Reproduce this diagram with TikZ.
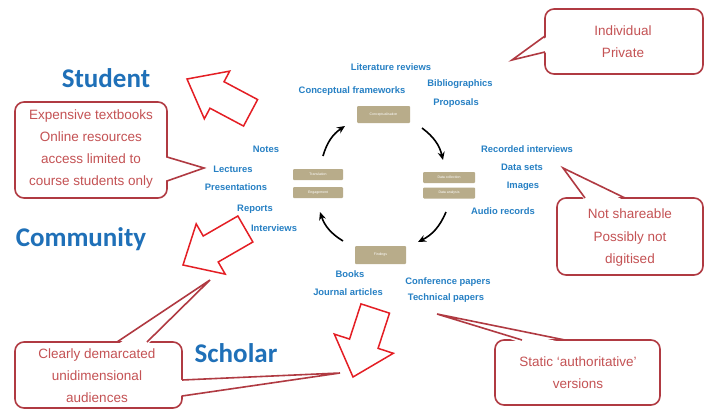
\documentclass[tikz,border=0pt]{standalone}
\usepackage{fontspec}
\setmainfont{Liberation Sans}
\newfontfamily\titlefont{Carlito}
\usetikzlibrary{arrows.meta,calc}
\definecolor{titleblue}{RGB}{31,112,184}
\definecolor{lblblue}{RGB}{38,128,196}
\definecolor{tanbox}{RGB}{184,172,138}
\definecolor{callred}{RGB}{176,58,66}
\definecolor{calltext}{RGB}{196,82,84}
\definecolor{arrred}{RGB}{228,30,36}
\begin{document}
\begin{tikzpicture}[x=1pt,y=-1pt,
 title/.style={font=\titlefont\bfseries\fontsize{27}{27}\selectfont, text=titleblue, inner sep=0pt},
 lbl/.style={font=\bfseries\fontsize{9.4}{9.4}\selectfont, text=lblblue, inner sep=0pt},
 stage/.style={fill=tanbox, text=white, font=\fontsize{3.5}{4}\selectfont, inner sep=0pt, rounded corners=1pt},
 cyc/.style={line width=1.6pt, -{Stealth[length=8pt,width=7pt]}, bend left=20},
 calloutbox/.style={draw=callred, line width=1.6pt, fill=white, rounded corners=9pt},
 callline/.style={draw=callred, line width=1.6pt, line join=miter},
 calltxt/.style={text=calltext, align=center, inner sep=0pt},
 blockarrow/.style={draw=arrred, line width=1.5pt, fill=white, line join=miter}
]
\useasboundingbox (0,0) rectangle (704,410);
\fill[white] (0,0) rectangle (704,410);

% titles
\node[title] (student) at (106,78) {Student};
\node[title] (community) at (81,239) {Community};
\node[title] (scholar) at (236,353) {Scholar};

% stage boxes
\node[stage, minimum width=53pt, minimum height=17pt] (concept) at (383.5,114.5) {Conceptualisation};
\node[stage, minimum width=50pt, minimum height=11pt] (transl) at (318,174.5) {Translation};
\node[stage, minimum width=50pt, minimum height=11pt] (engage) at (318,192.5) {Engagement};
\node[stage, minimum width=52pt, minimum height=11pt] (datacol) at (449,177.5) {Data collection};
\node[stage, minimum width=52pt, minimum height=11pt] (dataan) at (449,193) {Data analysis};
\node[stage, minimum width=51pt, minimum height=18pt] (findings) at (380.5,255) {Findings};

% cycle arrows
\coordinate (a1s) at (323,156); \coordinate (a1e) at (345,126);
\coordinate (a2s) at (422,128); \coordinate (a2e) at (443,160);
\coordinate (a3s) at (446,212); \coordinate (a3e) at (418,242);
\coordinate (a4s) at (343,241); \coordinate (a4e) at (320,212);
\draw[cyc] (a1s) to (a1e);
\draw[cyc] (a2s) to (a2e);
\draw[cyc] (a3s) to (a3e);
\draw[cyc] (a4s) to (a4e);

% blue labels
\node[lbl] (litrev) at (391,67) {Literature reviews};
\node[lbl] (concfw) at (352,91) {Conceptual frameworks};
\node[lbl] (biblio) at (460,84) {Bibliographics};
\node[lbl] (propos) at (456,103) {Proposals};
\node[lbl] (notes) at (266,149) {Notes};
\node[lbl] (lect) at (233,169) {Lectures};
\node[lbl] (pres) at (236,187) {Presentations};
\node[lbl] (reports) at (255,209) {Reports};
\node[lbl] (interv) at (274,228) {Interviews};
\node[lbl] (recint) at (527,149) {Recorded interviews};
\node[lbl] (datasets) at (522,167) {Data sets};
\node[lbl] (images) at (523,186) {Images};
\node[lbl] (audio) at (503,211) {Audio records};
\node[lbl] (books) at (350,274) {Books};
\node[lbl] (journal) at (348,292) {Journal articles};
\node[lbl] (confp) at (448,282) {Conference papers};
\node[lbl] (techp) at (446,298) {Technical papers};

% red block arrows
\begin{scope}[shift={(187,79)}, rotate=-28]
\draw[blockarrow] (0,0) -- (34,27) -- (34,15) -- (72,15) -- (72,-15) -- (34,-15) -- (34,-27) -- cycle;
\end{scope}
\begin{scope}[shift={(183,265)}, rotate=30]
\draw[blockarrow] (0,0) -- (32,29) -- (32,15) -- (72,15) -- (72,-15) -- (32,-15) -- (32,-29) -- cycle;
\end{scope}
\begin{scope}[shift={(353,377)}, rotate=72]
\draw[blockarrow] (0,0) -- (35,31) -- (35,15) -- (72,15) -- (72,-15) -- (35,-15) -- (35,-31) -- cycle;
\end{scope}

% callout: Individual / Private
\draw[calloutbox] (545,9) rectangle (703,74);
\coordinate (p1) at (512,60);
\fill[white] (548,36) -- (p1) -- (548,52) -- cycle;
\draw[callline] (545,36) -- (p1) -- (545,52);
\node[calltxt, font=\fontsize{13.5}{22}\selectfont] (indtxt) at (623,42) {Individual\\Private};

% callout: Expensive textbooks
\draw[calloutbox] (15,102) rectangle (167,198);
\coordinate (p2) at (204,168);
\fill[white] (164,157) -- (p2) -- (164,181) -- cycle;
\draw[callline] (167,157) -- (p2) -- (167,181);
\node[calltxt, font=\fontsize{13.5}{21.7}\selectfont] (exptxt) at (91,149) {Expensive textbooks\\Online resources\\access limited to\\course students only};

% callout: Not shareable
\draw[calloutbox] (557,198) rectangle (703,275);
\coordinate (p3) at (563,168);
\fill[white] (585,201) -- (p3) -- (625,201) -- cycle;
\draw[callline] (585,198) -- (p3) -- (625,198);
\node[calltxt, font=\fontsize{13.5}{22.5}\selectfont] (nstxt) at (630,238) {Not shareable\\Possibly not\\digitised};

% callout: Clearly demarcated
\draw[calloutbox] (15,342) rectangle (182,408);
\coordinate (p4) at (210,280);
\coordinate (p5) at (340,373);
\fill[white] (117,345) -- (p4) -- (147,345) -- cycle;
\fill[white] (179,380) -- (p5) -- (179,396) -- cycle;
\draw[callline] (117,342) -- (p4) -- (147,342);
\draw[callline] (182,380) -- (p5) -- (182,396);
\node[calltxt, font=\fontsize{13.5}{22}\selectfont] (cdtxt) at (97,376) {Clearly demarcated\\unidimensional\\audiences};

% callout: Static authoritative versions
\draw[calloutbox] (495,340) rectangle (660,405);
\coordinate (p6) at (437,314);
\fill[white] (522,343) -- (p6) -- (565,343) -- cycle;
\draw[callline] (522,340) -- (p6) -- (565,340);
\node[calltxt, font=\fontsize{13.5}{22}\selectfont] (sttxt) at (578,373) {Static ‘authoritative’\\versions};
\end{tikzpicture}
\end{document}
